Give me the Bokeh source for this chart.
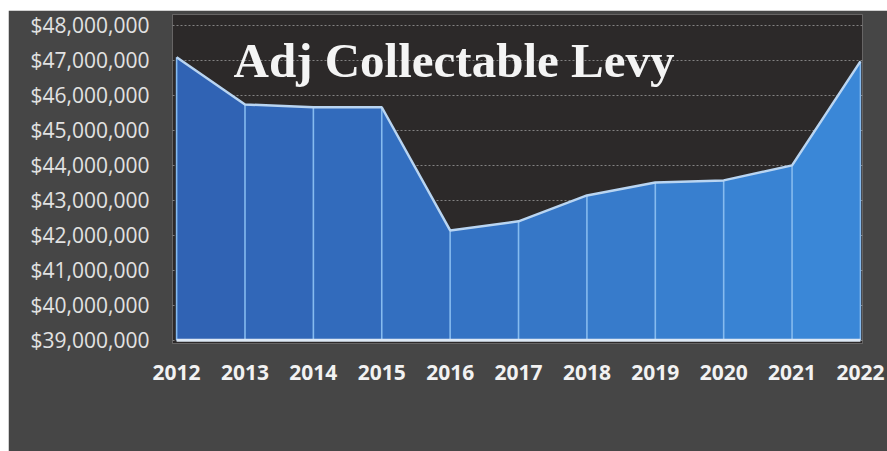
from bokeh.plotting import figure
from bokeh.models import FixedTicker, NumeralTickFormatter, Label, Range1d
from bokeh.embed import file_html
from bokeh.resources import INLINE

years = [2012, 2013, 2014, 2015, 2016, 2017, 2018, 2019, 2020, 2021, 2022]
levy = [47.09e6, 45.74e6, 45.66e6, 45.66e6, 42.14e6, 42.40e6, 43.14e6, 43.51e6, 43.57e6, 44.00e6, 46.97e6]
y_ticks = [39e6, 40e6, 41e6, 42e6, 43e6, 44e6, 45e6, 46e6, 47e6, 48e6]
title_text = "Adj Collectable Levy"

p = figure(width=879, height=441, output_backend="svg", toolbar_location=None,
           x_range=Range1d(2011.94, 2022.03), y_range=Range1d(38.91e6, 48.31e6),
           min_border_left=164, min_border_right=25, min_border_top=4, min_border_bottom=108)
p.margin = (10, 0, 0, 8)

p.background_fill_color = "#2c2929"
p.border_fill_color = "#464646"
p.outline_line_color = None

# grid
p.xgrid.grid_line_color = None
p.ygrid.ticker = FixedTicker(ticks=y_ticks)
p.ygrid.grid_line_color = "#a8a8a8"
p.ygrid.grid_line_alpha = 0.7
p.ygrid.grid_line_dash = "2 2"
p.ygrid.grid_line_width = 1

# area with left-to-right shade
c0 = (0x2f, 0x61, 0xb2)
c1 = (0x3b, 0x89, 0xd9)
base = y_ticks[0]
n = len(years) - 1
for i in range(n):
    t = (i + 0.5) / n
    col = "#%02x%02x%02x" % tuple(int(round(a + (b - a) * t)) for a, b in zip(c0, c1))
    p.varea(x=years[i:i + 2], y1=[base, base], y2=levy[i:i + 2], fill_color=col, fill_alpha=1.0)

p.segment(x0=years, y0=[base] * len(years), x1=years, y1=levy, line_color="#86bbef", line_width=1.6)
p.line(years, levy, line_color="#b9d5f2", line_width=2.5)
p.segment(x0=[years[0]], y0=[base], x1=[years[-1]], y1=[base], line_color="#dde8f4", line_width=3)

# axes
p.yaxis.ticker = FixedTicker(ticks=y_ticks)
p.yaxis.formatter = NumeralTickFormatter(format="$0,0")
p.yaxis.major_label_text_font = "Open Sans"
p.yaxis.major_label_text_font_size = "21px"
p.yaxis.major_label_text_color = "#e2e2e2"
p.yaxis.major_label_standoff = 17
p.xaxis.ticker = FixedTicker(ticks=years)
p.xaxis.major_label_text_font = "Open Sans"
p.xaxis.major_label_text_font_style = "bold"
p.xaxis.major_label_text_font_size = "21px"
p.xaxis.major_label_text_color = "#f2f2f2"
p.xaxis.major_label_standoff = 15
for ax in (p.xaxis, p.yaxis):
    ax.axis_line_color = None
    ax.major_tick_line_color = None
    ax.minor_tick_line_color = None

p.add_layout(Label(x=61, y=283, x_units="screen", y_units="screen", text=title_text,
                   text_font="Liberation Serif", text_font_style="bold", text_font_size="49px",
                   text_color="#f4f4f4", text_baseline="alphabetic", text_align="left"))

open("out.html", "w").write(file_html(p, INLINE))
